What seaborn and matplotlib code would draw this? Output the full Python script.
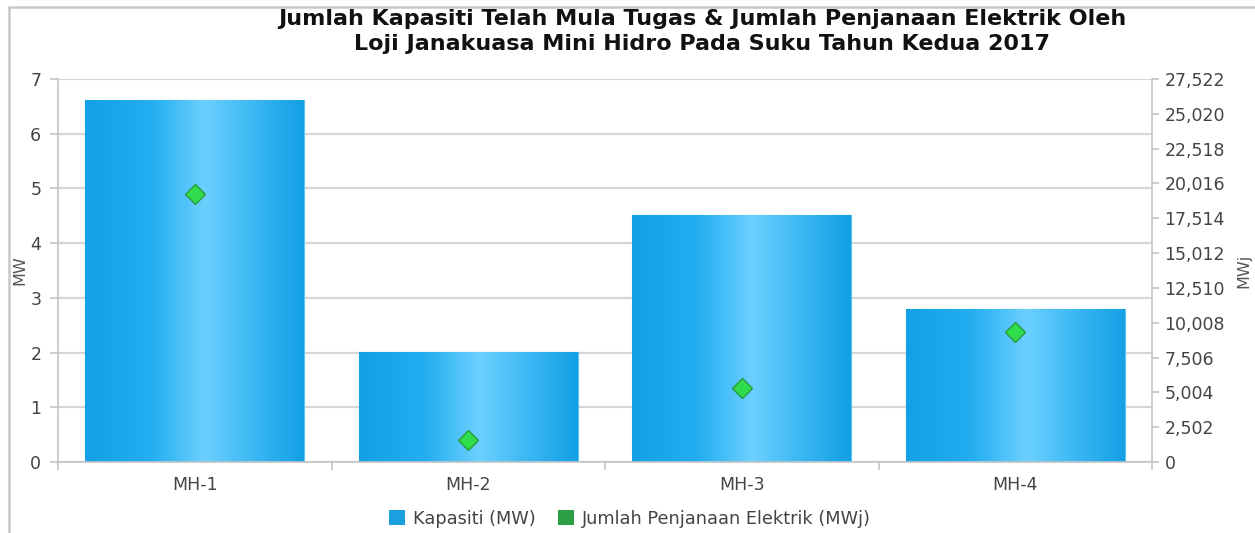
import numpy as np
import pandas as pd
import matplotlib
matplotlib.use("Agg")
import matplotlib.pyplot as plt
import seaborn as sns
from matplotlib.colors import LinearSegmentedColormap
from matplotlib.patches import Patch
from matplotlib.lines import Line2D
from matplotlib.ticker import FuncFormatter, FixedLocator

# ---- data ----
categories = ["MH-1", "MH-2", "MH-3", "MH-4"]
kapasiti_mw = [6.62, 2.01, 4.52, 2.80]
penjanaan_mwj = [19260, 1580, 5320, 9340]
left_ticks = [0, 1, 2, 3, 4, 5, 6, 7]
right_ticks = [0, 2502, 5004, 7506, 10008, 12510, 15012, 17514, 20016, 22518, 25020, 27522]
title_lines = ["Jumlah Kapasiti Telah Mula Tugas & Jumlah Penjanaan Elektrik Oleh",
               "Loji Janakuasa Mini Hidro Pada Suku Tahun Kedua 2017"]
legend_labels = ["Kapasiti (MW)", "Jumlah Penjanaan Elektrik (MWj)"]

sns.set_theme(style="white")
plt.rcParams["font.family"] = ["DejaVu Sans"]

TXT = "#444444"
AXC = "#c3c3c3"
GRID = "#d6d6d6"

W, H = 1255, 533
fig = plt.figure(figsize=(W / 100, H / 100), dpi=100)
fig.patch.set_facecolor("white")
ax = fig.add_axes([58 / W, 1 - 462 / H, (1152 - 58) / W, (462 - 79) / H])

df = pd.DataFrame({"Unit": categories, "MW": kapasiti_mw, "MWj": penjanaan_mwj})

sns.barplot(data=df, x="Unit", y="MW", ax=ax, color="#1ba6ea", width=0.8,
            saturation=1, edgecolor="#5cc4f5", linewidth=0.8, zorder=2)

cmap = LinearSegmentedColormap.from_list(
    "bar", [(0, "#14a0e6"), (0.3, "#22aef0"), (0.55, "#6cd0ff"),
            (0.78, "#3ab7f3"), (1, "#13a0e5")])
grad = np.linspace(0, 1, 256).reshape(1, -1)
for p in list(ax.patches):
    x0, y0 = p.get_x(), p.get_y()
    w, h = p.get_width(), p.get_height()
    im = ax.imshow(grad, cmap=cmap, extent=[x0, x0 + w, y0, y0 + h],
                   aspect="auto", zorder=2.5, interpolation="bilinear")
    im.set_clip_path(p)

ax.set_xlim(-0.5, 3.5)
ax.set_ylim(0, 7)
ax.yaxis.set_major_locator(FixedLocator(left_ticks))
ax.set_axisbelow(True)
ax.grid(axis="y", color=GRID, linewidth=1.6)
ax.grid(axis="x", visible=False)

for s in ["top", "right"]:
    ax.spines[s].set_visible(False)
for s in ["left", "bottom"]:
    ax.spines[s].set_color(AXC)
    ax.spines[s].set_linewidth(1.2)

ax.tick_params(axis="y", which="major", direction="out", length=6, width=1.2,
               color=AXC, labelsize=12.5, labelcolor=TXT, pad=6, left=True)
ax.tick_params(axis="x", which="major", length=0, labelsize=12.5, labelcolor=TXT, pad=10)
ax.set_xticks([-0.5, 0.5, 1.5, 2.5, 3.5], minor=True)
ax.tick_params(axis="x", which="minor", direction="out", length=6, width=1.2,
               color=AXC, bottom=True)
ax.set_xlabel("")
ax.set_ylabel("MW", fontsize=11.5, color="#555555", labelpad=2)

ax2 = ax.twinx()
sns.pointplot(data=df, x="Unit", y="MWj", ax=ax2, linestyle="none", marker="D",
              markersize=10, color="#2fdc4c", markeredgecolor="#2a9a3c",
              markeredgewidth=1, errorbar=None, zorder=5)
ax2.set_xlim(-0.5, 3.5)
ax2.set_ylim(0, 27522)
ax2.yaxis.set_major_locator(FixedLocator(right_ticks))
ax2.yaxis.set_major_formatter(FuncFormatter(lambda v, _: f"{int(round(v)):,}"))
ax2.grid(False)
for s in ["top", "left", "bottom"]:
    ax2.spines[s].set_visible(False)
ax2.spines["right"].set_color(AXC)
ax2.spines["right"].set_linewidth(1.2)
ax2.tick_params(axis="y", direction="out", length=5, width=1.2, color=AXC,
                labelsize=12.5, labelcolor=TXT, pad=4, right=True)
ax2.set_xlabel("")
ax2.set_ylabel("MWj", fontsize=11.5, color="#555555", labelpad=8)

# title
fig.text(702 / W, 1 - 19 / H, title_lines[0], ha="center", va="center",
         fontsize=16, fontweight="bold", color="#111111")
fig.text(702 / W, 1 - 44 / H, title_lines[1], ha="center", va="center",
         fontsize=16, fontweight="bold", color="#111111")

# legend
handles = [Patch(facecolor="#1a9fe0", edgecolor="none"),
           Patch(facecolor="#2e9e44", edgecolor="none")]
fig.legend(handles, legend_labels, loc="center", bbox_to_anchor=(630 / W, 1 - 519 / H),
           ncol=2, frameon=False, fontsize=12.8, labelcolor=TXT,
           handlelength=0.9, handleheight=0.9, handletextpad=0.4, columnspacing=1.3)

# outer frame
fig.add_artist(Line2D([8.5 / W, 8.5 / W], [0, 1 - 7 / H], transform=fig.transFigure,
                      color="#c8c8c8", linewidth=1.8))
fig.add_artist(Line2D([8.5 / W, 1], [1 - 7 / H, 1 - 7 / H], transform=fig.transFigure,
                      color="#c8c8c8", linewidth=1.8))

fig.savefig("out.png", dpi=100)
